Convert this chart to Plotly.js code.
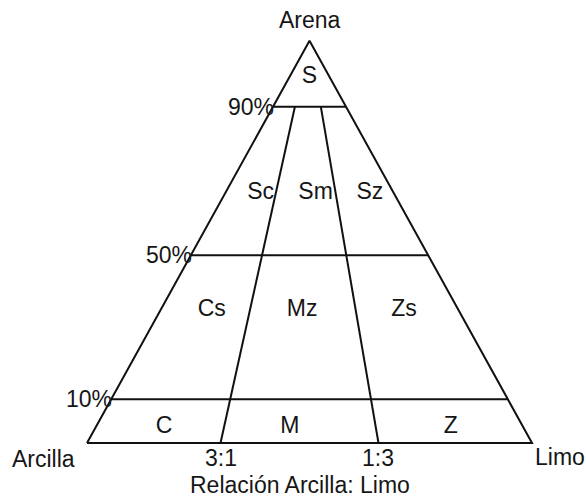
<!DOCTYPE html>
<html>
<head>
<meta charset="utf-8">
<script src="https://cdn.plot.ly/plotly-3.0.1.min.js"></script>
<style>
  html, body { margin: 0; padding: 0; background: #fff; }
  #chart { width: 586px; height: 499px; }
</style>
</head>
<body>
<div id="chart"></div>
<script>
  // sand boundaries: label and where the reference draws them (% of triangle height)
  const sandLabels = ['10%', '50%', '90%'];
  const sandLines = [10.9, 46.7, 83.6];

  // clay:silt ratio boundaries, as silt share of the mud fraction
  const ratioLabels = ['3:1', '1:3'];
  const ratioLines = [0.30, 0.655];

  // textural classes and the spot (sand %, silt share) where each label sits
  const classCodes = ['C', 'M', 'Z', 'Cs', 'Mz', 'Zs', 'Sc', 'Sm', 'Sz', 'S'];
  const classSand = [3.85, 3.85, 3.85, 33, 33, 33, 62, 62, 62, 91];
  const classSilt = [0.16, 0.454, 0.83, 0.172, 0.475, 0.817, 0.211, 0.536, 0.857, 0.5];

  const cornerLabels = { top: 'Arena', left: 'Arcilla', right: 'Limo' };
  const baseTitle = 'Relación Arcilla: Limo';

  const FONT = '"Liberation Sans", Arial, Helvetica, sans-serif';
  const INK = '#161616';
  const LINE = { color: '#111', width: 2 };
  const SIZE = 23;

  // triangle coords: apex at x=0.5, y=sand fraction
  function toX(sandPct, silt) {
    const s = sandPct / 100;
    return 0.5 * s + silt * (1 - s);
  }
  function toY(sandPct) {
    return sandPct / 100;
  }

  const traces = [];

  // outline
  const outline = [[0, 0], [0, 1], [100, 0.5], [0, 0]];
  traces.push({
    type: 'scatter', mode: 'lines',
    x: outline.map(p => toX(p[0], p[1])),
    y: outline.map(p => toY(p[0])),
    line: LINE, hoverinfo: 'skip'
  });

  // horizontal sand lines
  sandLines.forEach(s => {
    traces.push({
      type: 'scatter', mode: 'lines',
      x: [toX(s, 0), toX(s, 1)],
      y: [toY(s), toY(s)],
      line: LINE, hoverinfo: 'skip'
    });
  });

  // ratio lines run from the base up to the top sand line
  const topSand = sandLines[sandLines.length - 1];
  ratioLines.forEach(f => {
    traces.push({
      type: 'scatter', mode: 'lines',
      x: [toX(0, f), toX(topSand, f)],
      y: [toY(0), toY(topSand)],
      line: LINE, hoverinfo: 'skip'
    });
  });

  // class labels
  traces.push({
    type: 'scatter', mode: 'text',
    x: classCodes.map((c, i) => toX(classSand[i], classSilt[i])),
    y: classCodes.map((c, i) => toY(classSand[i])),
    text: classCodes,
    textposition: 'middle center',
    textfont: { family: FONT, size: SIZE, color: INK },
    hoverinfo: 'skip'
  });

  const annotations = [];
  const textFont = { family: FONT, size: SIZE, color: INK };

  sandLines.forEach((s, i) => {
    annotations.push({
      x: toX(s, 0), y: toY(s), xref: 'x', yref: 'y',
      text: sandLabels[i], showarrow: false,
      xanchor: 'right', yanchor: 'middle', xshift: 3,
      font: textFont
    });
  });

  ratioLines.forEach((f, i) => {
    annotations.push({
      x: toX(0, f), y: 0, xref: 'x', yref: 'y',
      text: ratioLabels[i], showarrow: false,
      xanchor: 'center', yanchor: 'top', yshift: 0,
      font: textFont
    });
  });

  annotations.push(
    { x: 0.5, y: 1, xref: 'x', yref: 'y', text: cornerLabels.top, showarrow: false,
      xanchor: 'center', yanchor: 'bottom', yshift: 6, font: textFont },
    { x: 0, y: 0, xref: 'x', yref: 'y', text: cornerLabels.left, showarrow: false,
      xanchor: 'center', yanchor: 'top', xshift: -44, yshift: -1, font: textFont },
    { x: 1, y: 0, xref: 'x', yref: 'y', text: cornerLabels.right, showarrow: false,
      xanchor: 'center', yanchor: 'top', xshift: 28, yshift: 1, font: textFont },
    { x: 0.479, y: 0, xref: 'x', yref: 'y', text: baseTitle, showarrow: false,
      xanchor: 'center', yanchor: 'top', yshift: -27, font: textFont }
  );

  const hiddenAxis = {
    visible: false, showgrid: false, zeroline: false, fixedrange: true
  };

  const layout = {
    width: 586,
    height: 499,
    autosize: false,
    margin: { l: 0, r: 0, t: 0, b: 0 },
    paper_bgcolor: '#fff',
    plot_bgcolor: '#fff',
    showlegend: false,
    xaxis: Object.assign({ range: [-0.1955, 1.1213] }, hiddenAxis),
    yaxis: Object.assign({ range: [-0.1392, 1.1012] }, hiddenAxis),
    annotations: annotations
  };

  Plotly.newPlot('chart', traces, layout, { displayModeBar: false, staticPlot: true });
</script>
</body>
</html>
